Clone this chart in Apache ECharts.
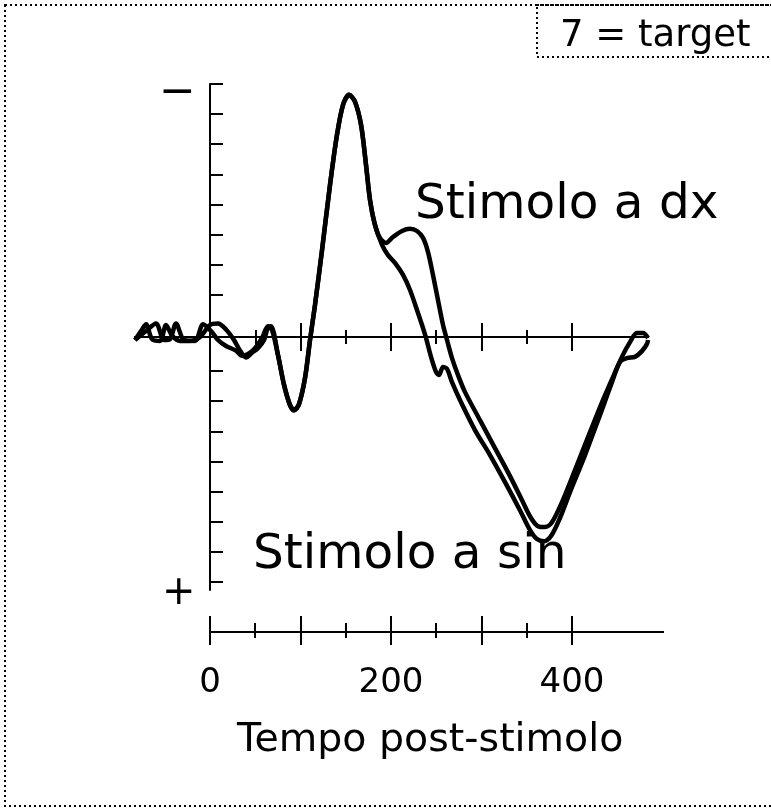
<!DOCTYPE html>
<html>
<head>
<meta charset="utf-8">
<title>Tempo post-stimolo</title>
<script src="https://cdn.jsdelivr.net/npm/echarts@6/dist/echarts.min.js"></script>
<style>
  html, body { margin: 0; padding: 0; background: #fff; }
  #chart { width: 771px; height: 811px; }
</style>
</head>
<body>
<div id="chart"></div>
<script>
// Event-related potential, two stimulus conditions (time in ms, amplitude in µV)
const timeDx = [-82.9, -70.7, -59.7, -50.8, -44.2, -37.6, -28.7, -16.6, -7.7, 1.1, 8.8, 17.7, 28.7, 35.4, 42.0, 49.7, 57.5, 64.1, 68.5, 75.1, 81.8, 88.4, 92.8, 98.3, 105.0, 110.5, 116.0, 123.8, 132.6, 140.3, 147.0, 153.6, 160.2, 166.9, 172.4, 176.8, 182.3, 187.8, 194.5, 202.2, 212.2, 221.0, 228.7, 235.4, 240.9, 246.4, 251.9, 257.5, 261.9, 267.4, 274.0, 281.8, 298.3, 314.9, 331.5, 344.8, 354.7, 362.4, 370.2, 377.9, 389.0, 403.3, 419.9, 434.3, 445.3, 455.2, 464.1, 471.8, 478.5, 484.0];
const ampDx = [0.10, -0.20, -0.45, 0.10, 0.07, -0.45, 0.10, 0.13, -0.42, -0.20, 0.10, 0.30, 0.45, 0.62, 0.56, 0.37, 0.03, -0.36, -0.23, 0.60, 1.59, 2.26, 2.43, 2.23, 1.36, 0.10, -1.06, -2.89, -5.05, -6.71, -7.71, -8.04, -7.81, -7.04, -5.71, -4.55, -3.72, -3.29, -3.12, -3.32, -3.52, -3.59, -3.52, -3.29, -2.82, -2.06, -1.23, -0.40, 0.10, 0.70, 1.26, 1.83, 2.76, 3.69, 4.62, 5.42, 6.01, 6.28, 6.31, 6.15, 5.48, 4.42, 3.16, 2.09, 1.33, 0.66, 0.17, -0.13, -0.13, 0.03];

const timeSin = [-82.9, -76.2, -70.7, -64.1, -55.2, -48.6, -42.0, -33.1, -22.1, -11.0, 0.0, 8.8, 17.7, 26.5, 33.1, 39.8, 46.4, 53.0, 59.7, 64.1, 67.4, 75.1, 81.8, 88.4, 92.8, 98.3, 105.0, 110.5, 116.0, 123.8, 132.6, 140.3, 147.0, 153.6, 160.2, 166.9, 172.4, 176.8, 182.3, 190.1, 196.7, 204.4, 213.3, 221.0, 228.7, 234.3, 238.7, 244.2, 249.7, 253.0, 257.5, 261.9, 267.4, 276.2, 292.8, 309.4, 326.0, 342.5, 353.6, 361.3, 369.1, 376.8, 386.7, 397.8, 414.4, 431.0, 444.2, 453.0, 460.8, 469.6, 477.3, 482.9, 484.0];
const ampSin = [0.10, -0.20, -0.42, 0.07, 0.13, -0.40, -0.05, 0.13, 0.13, 0.00, -0.40, -0.45, -0.25, 0.10, 0.45, 0.68, 0.52, 0.37, 0.10, -0.33, -0.36, 0.60, 1.59, 2.26, 2.43, 2.23, 1.36, 0.10, -1.06, -2.89, -5.05, -6.71, -7.71, -8.04, -7.81, -7.04, -5.71, -4.55, -3.72, -3.06, -2.72, -2.46, -2.06, -1.56, -0.90, -0.40, 0.03, 0.66, 1.16, 1.26, 1.00, 1.06, 1.50, 2.09, 3.09, 3.92, 4.82, 5.75, 6.41, 6.71, 6.78, 6.61, 6.01, 5.15, 3.92, 2.59, 1.50, 0.83, 0.70, 0.66, 0.47, 0.23, 0.10];

// Amplitude ticks (negative up), time ticks on the zero line and on the lower scale
const ampTicks = [-8.4, -7.4, -6.4, -5.4, -4.4, -3.4, -2.4, -1.4, 1.13, 2.13, 3.13, 4.13, 5.13, 6.13, 7.13, 8.13];
const timeMajorTicks = [100, 200, 300, 400];
const timeMinorTicks = [50, 150, 250, 350];
const scaleMajorTicks = [0, 100, 200, 300, 400];
const scaleLabels = [0, 200, 400];

const seriesNames = ['Stimolo a dx', 'Stimolo a sin'];
const FONT = '"DejaVu Sans", Verdana, sans-serif';
const INK = '#000';

function toPairs(ts, vs) { return ts.map((t, i) => [t, vs[i]]); }

const tMin = -82.9, tMax = 484.0;

// Axes sharing the zero line: one per tick set and direction, so ticks cross the line
function zeroLineAxis(values, len, inside) {
  return {
    type: 'value', gridIndex: 0, min: tMin, max: tMax, position: 'bottom',
    axisLine: { show: true, onZero: true, onZeroAxisIndex: 0, lineStyle: { color: INK, width: 2 } },
    axisTick: { show: true, inside: inside, length: len, customValues: values, lineStyle: { color: INK, width: 2 } },
    axisLabel: { show: false },
    splitLine: { show: false }
  };
}

function scaleAxis(values, len, inside, labels) {
  return {
    type: 'value', gridIndex: 1, min: 0, max: 500.6, position: 'bottom',
    axisLine: { show: true, onZero: false, lineStyle: { color: INK, width: 2 } },
    axisTick: { show: true, inside: inside, length: len, customValues: values, lineStyle: { color: INK, width: 2 } },
    axisLabel: labels ? {
      show: true, customValues: labels, margin: 34,
      color: INK, fontFamily: FONT, fontSize: 34
    } : { show: false },
    splitLine: { show: false }
  };
}

const chart = echarts.init(document.getElementById('chart'), null, { renderer: 'canvas' });

chart.setOption({
  animation: false,
  backgroundColor: '#fff',
  textStyle: { fontFamily: FONT },
  grid: [
    { left: 135, top: 84, width: 513, height: 506 },
    { left: 210, top: 600, width: 453, height: 32 }
  ],
  xAxis: [
    zeroLineAxis(timeMajorTicks, 14, false),
    zeroLineAxis(timeMajorTicks, 14, true),
    zeroLineAxis(timeMinorTicks, 7, false),
    zeroLineAxis(timeMinorTicks, 7, true),
    scaleAxis(scaleMajorTicks, 13, false, scaleLabels),
    scaleAxis(scaleMajorTicks, 16, true, null),
    scaleAxis(timeMinorTicks, 6, false, null),
    scaleAxis(timeMinorTicks, 9, true, null)
  ],
  yAxis: [
    {
      type: 'value', gridIndex: 0, inverse: true, min: -8.4, max: 8.4,
      axisLine: { show: true, onZero: true, onZeroAxisIndex: 0, lineStyle: { color: INK, width: 2 } },
      axisTick: { show: true, inside: true, length: 13, customValues: ampTicks, lineStyle: { color: INK, width: 2 } },
      axisLabel: { show: false },
      splitLine: { show: false }
    },
    { type: 'value', gridIndex: 1, show: false, min: 0, max: 1 }
  ],
  series: [
    {
      name: seriesNames[0], type: 'line', xAxisIndex: 0, yAxisIndex: 0,
      data: toPairs(timeDx, ampDx), smooth: 0.3, showSymbol: false,
      lineStyle: { color: INK, width: 4.5 }, z: 5
    },
    {
      name: seriesNames[1], type: 'line', xAxisIndex: 0, yAxisIndex: 0,
      data: toPairs(timeSin, ampSin), smooth: 0.3, showSymbol: false,
      lineStyle: { color: INK, width: 4.5 }, z: 5
    }
  ],
  graphic: [
    {
      type: 'rect', silent: true,
      shape: { x: 5, y: 5, width: 800, height: 801 },
      style: { fill: 'none', stroke: INK, lineWidth: 2, lineDash: [2, 3] }
    },
    {
      type: 'rect', silent: true,
      shape: { x: 537, y: 5, width: 300, height: 52 },
      style: { fill: 'none', stroke: INK, lineWidth: 2, lineDash: [2, 3] }
    },
    {
      type: 'text', left: 560, top: 18,
      style: { text: '7 = target', fontFamily: FONT, fontSize: 37, fill: INK }
    },
    {
      type: 'text', left: 159, top: 72,
      style: { text: '\u2212', fontFamily: FONT, fontSize: 44, fill: INK }
    },
    {
      type: 'text', left: 162, top: 574,
      style: { text: '+', fontFamily: FONT, fontSize: 40, fill: INK }
    },
    {
      type: 'text', left: 415, top: 181,
      style: { text: seriesNames[0], fontFamily: FONT, fontSize: 48.5, fill: INK }
    },
    {
      type: 'text', left: 253, top: 531,
      style: { text: seriesNames[1], fontFamily: FONT, fontSize: 48.5, fill: INK }
    },
    {
      type: 'text', left: 237, top: 721,
      style: { text: 'Tempo post-stimolo', fontFamily: FONT, fontSize: 39.5, fill: INK }
    }
  ]
});
</script>
</body>
</html>
